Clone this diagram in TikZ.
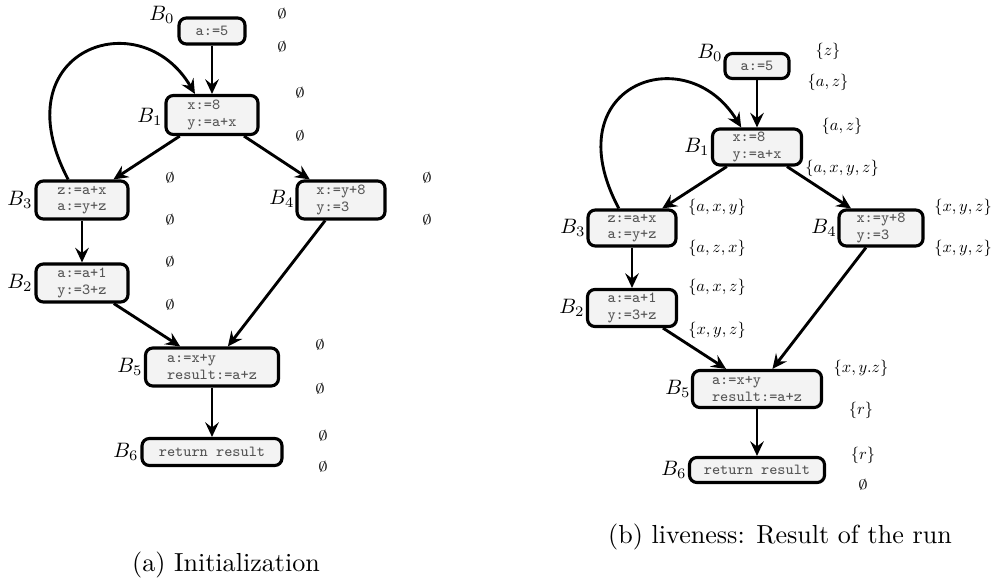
\documentclass[tikz,border=0pt]{standalone}
\usepackage{fontspec}
\usepackage{graphicx}
\usetikzlibrary{arrows.meta}
\definecolor{boxfill}{RGB}{243,243,243}
\definecolor{codegray}{RGB}{85,85,85}
\newcommand{\setsz}[1]{\scalebox{0.63}{$#1$}}
\newcommand{\emptyz}{\scalebox{0.72}[0.52]{$\emptyset$}}
\newcommand{\blabz}[1]{\scalebox{0.8}{$#1$}}
\tikzset{
  blk/.style={draw, line width=1.2pt, rounded corners=2.8pt, fill=boxfill, text=codegray,
    font=\ttfamily\fontsize{5.9}{6.2}\selectfont, align=left, inner sep=0pt},
  bx/.style 2 args={minimum width=#1*0.3834pt, minimum height=#2*0.3834pt},
  arr/.style={line width=1.1pt, -{Stealth[length=5.6pt, width=5.2pt, inset=2pt]}},
  blab/.style={font=\fontsize{10}{12}\selectfont, inner sep=0pt},
  setl/.style={font=\fontsize{10}{12}\selectfont, inner sep=0pt},
  captxt/.style={font=\fontsize{10}{12}\selectfont, inner sep=0pt}
}
\begin{document}
\begin{tikzpicture}[x=0.3834pt, y=-0.3834pt]
\useasboundingbox (0,0) rectangle (994,583);
% ---------------- (a) ----------------
\node[blk, bx={66}{26}] (a0) at (212,31) {a:=5};
\node[blk, bx={92}{39}] (a1) at (212,115) {x:=8\\y:=a+x};
\node[blk, bx={92}{38}] (a3) at (82,200) {z:=a+x\\a:=y+z};
\node[blk, bx={88}{38}] (a4) at (341,200) {x:=y+8\\y:=3};
\node[blk, bx={92}{38}] (a2) at (82,283) {a:=a+1\\y:=3+z};
\node[blk, bx={133}{38}] (a5) at (212,367) {a:=x+y\\result:=a+z};
\node[blk, bx={140}{27}] (a6) at (212,452) {return result};

\node[blab] (la0) at (162,15) {\blabz{B_0}};
\node[blab] (la1) at (150,117) {\blabz{B_1}};
\node[blab] (la3) at (20,200) {\blabz{B_3}};
\node[blab] (la4) at (282,199) {\blabz{B_4}};
\node[blab] (la2) at (20,283) {\blabz{B_2}};
\node[blab] (la5) at (130,367) {\blabz{B_5}};
\node[blab] (la6) at (126,452) {\blabz{B_6}};

\node[setl] (ea0i) at (282,14) {\emptyz};
\node[setl] (ea0o) at (282,47) {\emptyz};
\node[setl] (ea1i) at (300,93) {\emptyz};
\node[setl] (ea1o) at (300,136) {\emptyz};
\node[setl] (ea3i) at (170,178) {\emptyz};
\node[setl] (ea3o) at (170,220) {\emptyz};
\node[setl] (ea4i) at (427,178) {\emptyz};
\node[setl] (ea4o) at (427,220) {\emptyz};
\node[setl] (ea2i) at (170,262) {\emptyz};
\node[setl] (ea2o) at (170,305) {\emptyz};
\node[setl] (ea5i) at (320,345) {\emptyz};
\node[setl] (ea5o) at (320,389) {\emptyz};
\node[setl] (ea6i) at (323,436) {\emptyz};
\node[setl] (ea6o) at (323,467) {\emptyz};

\draw[arr] (a0) -- (a1);
\draw[arr] (a1) -- (a3);
\draw[arr] (a1) -- (a4);
\draw[arr] (a3) -- (a2);
\draw[arr] (a2) -- (a5);
\draw[arr] (a4) -- (a5);
\draw[arr] (a5) -- (a6);
\draw[arr] (a3.124) .. controls (0,50) and (140,0) .. (a1.129);

\node[captxt] (capa) at (226,565) {(a) Initialization};

% ---------------- (b) ----------------
\node[blk, bx={64}{25}] (b0) at (757,66) {a:=5};
\node[blk, bx={89}{36}] (b1) at (757,147) {x:=8\\y:=a+x};
\node[blk, bx={88}{36}] (b3) at (632,228) {z:=a+x\\a:=y+z};
\node[blk, bx={84}{36}] (b4) at (881,228) {x:=y+8\\y:=3};
\node[blk, bx={89}{37}] (b2) at (632,308) {a:=a+1\\y:=3+z};
\node[blk, bx={129}{37}] (b5) at (757,389) {a:=x+y\\result:=a+z};
\node[blk, bx={135}{25}] (b6) at (757,470) {return result};

\node[blab] (lb0) at (710,53) {\blabz{B_0}};
\node[blab] (lb1) at (697,147) {\blabz{B_1}};
\node[blab] (lb3) at (573,228) {\blabz{B_3}};
\node[blab] (lb4) at (824,228) {\blabz{B_4}};
\node[blab] (lb2) at (572,308) {\blabz{B_2}};
\node[blab] (lb5) at (678,389) {\blabz{B_5}};
\node[blab] (lb6) at (674,470) {\blabz{B_6}};

\node[setl] (sb0i) at (828,51) {\setsz{\{z\}}};
\node[setl] (sb0o) at (828,82) {\setsz{\{a,z\}}};
\node[setl] (sb1i) at (842,126) {\setsz{\{a,z\}}};
\node[setl] (sb1o) at (842,168) {\setsz{\{a,x,y,z\}}};
\node[setl] (sb3i) at (717,207) {\setsz{\{a,x,y\}}};
\node[setl] (sb3o) at (717,248) {\setsz{\{a,z,x\}}};
\node[setl] (sb4i) at (963,207) {\setsz{\{x,y,z\}}};
\node[setl] (sb4o) at (963,248) {\setsz{\{x,y,z\}}};
\node[setl] (sb2i) at (717,287) {\setsz{\{a,x,z\}}};
\node[setl] (sb2o) at (717,330) {\setsz{\{x,y,z\}}};
\node[setl] (sb5i) at (861,368) {\setsz{\{x,y.z\}}};
\node[setl] (sb5o) at (861,410) {\setsz{\{r\}}};
\node[setl] (sb6i) at (863,455) {\setsz{\{r\}}};
\node[setl] (sb6o) at (863,485) {\emptyz};

\draw[arr] (b0) -- (b1);
\draw[arr] (b1) -- (b3);
\draw[arr] (b1) -- (b4);
\draw[arr] (b3) -- (b2);
\draw[arr] (b2) -- (b5);
\draw[arr] (b4) -- (b5);
\draw[arr] (b5) -- (b6);
\draw[arr] (b3.124) .. controls (553,85) and (686,37) .. (b1.129);

\node[captxt] (capb) at (780,537) {(b) liveness: Result of the run};
\end{tikzpicture}
\end{document}
